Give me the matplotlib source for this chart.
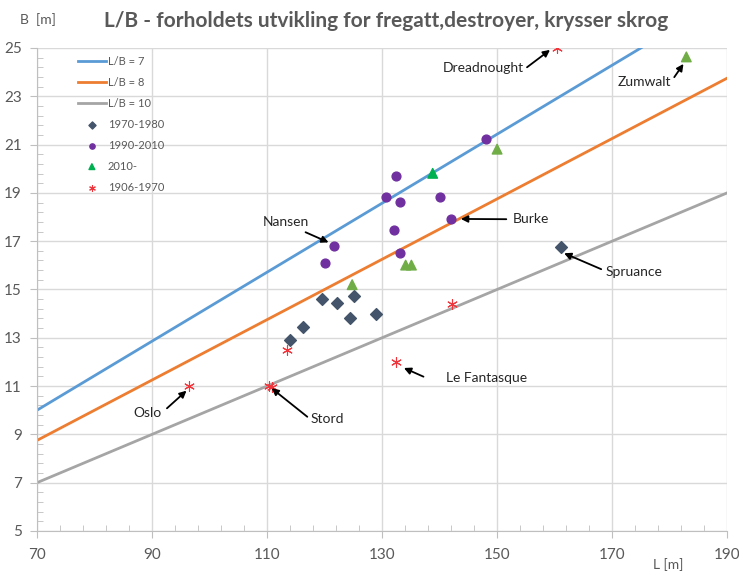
import matplotlib
matplotlib.use("Agg")
import matplotlib.pyplot as plt
import numpy as np

plt.rcParams['font.family'] = ['Lato', 'DejaVu Sans']

# ---- data ----
L_range = [70, 190]
ratios = [7, 8, 10]
ratio_labels = ["L/B = 7", "L/B = 8", "L/B = 10"]
ratio_colors = ["#5B9BD5", "#ED7D31", "#A5A5A5"]

L_7080 = [114.0, 116.3, 119.6, 122.1, 125.1, 124.4, 129.0, 161.1]
B_7080 = [12.9, 13.45, 14.6, 14.44, 14.73, 13.8, 13.99, 16.76]

L_9010 = [121.7, 120.1, 132.4, 130.7, 133.1, 140.0, 142.0, 132.1, 133.2, 148.0]
B_9010 = [16.81, 16.11, 19.70, 18.83, 18.62, 18.83, 17.93, 17.45, 16.5, 21.23]

L_2010 = [138.8, 150.0, 134.1, 135.1, 124.8, 182.9]
B_2010 = [19.81, 20.81, 16.01, 16.01, 15.2, 24.63]
C_2010 = ["#00B050", "#70AD47", "#70AD47", "#70AD47", "#70AD47", "#70AD47"]

L_0670 = [160.4, 142.2, 132.4, 113.5, 110.4, 110.8, 96.4]
B_0670 = [25.0, 14.41, 11.99, 12.49, 11.0, 10.95, 11.0]

ann_labels = ["Dreadnought", "Zumwalt", "Nansen", "Burke", "Spruance", "Le Fantasque", "Stord", "Oslo"]
ann_text = [(147.6, 24.16), (175.6, 23.60), (113.2, 17.78), (155.9, 17.92),
            (173.8, 15.71), (148.1, 11.32), (120.4, 9.64), (89.2, 9.90)]
arrow_start = [(155.2, 24.20), (180.8, 23.79), (116.7, 17.37), (151.6, 17.91),
               (168.1, 15.84), (137.2, 11.39), (117.0, 9.73), (92.6, 10.08)]
arrow_end = [(159.2, 24.92), (182.4, 24.34), (120.7, 16.95), (143.7, 17.92),
             (161.65, 16.50), (133.8, 11.75), (110.8, 10.91), (96.0, 10.81)]

x_ticks = list(range(70, 191, 20))
y_ticks = list(range(5, 26, 2))

# ---- figure ----
fig = plt.figure(figsize=(7.39, 5.73), dpi=100)
ax = fig.add_axes([0.050, 0.0733, 0.934, 0.843])

Lx = np.array(L_range, dtype=float)
for r, lab, col in zip(ratios, ratio_labels, ratio_colors):
    ax.plot(Lx, Lx / r, color=col, lw=2.0, label=lab, zorder=2)

ax.scatter(L_7080, B_7080, marker="D", s=36, color="#44546A", label="1970-1980", zorder=3)
ax.scatter(L_9010, B_9010, marker="o", s=40, color="#7030A0", label="1990-2010", zorder=3)
ax.scatter(L_2010, B_2010, marker="^", s=48, color=C_2010, label="2010-", zorder=3)
ax.scatter(L_0670, B_0670, marker=(6, 2, 0), s=50, color="#F0363C", linewidths=0.8,
           label="1906-1970", zorder=3)

for lab, txt, a0, a1 in zip(ann_labels, ann_text, arrow_start, arrow_end):
    ax.text(txt[0], txt[1], lab, ha="center", va="center", fontsize=10,
            color="#262626", zorder=4)
    ax.annotate("", xy=a1, xytext=a0,
                arrowprops=dict(arrowstyle="-|>", color="black", lw=1.3,
                                mutation_scale=10, shrinkA=0, shrinkB=0),
                zorder=4)

ax.set_xlim(70, 190)
ax.set_ylim(5, 25)
ax.set_xticks(x_ticks)
ax.set_yticks(y_ticks)
ax.set_xticks(np.arange(70, 191, 4), minor=True)
ax.set_yticks(np.arange(5, 25.01, 0.4), minor=True)
ax.grid(True, which="major", color="#D9D9D9", lw=1.0, zorder=0)
ax.set_axisbelow(True)
for s in ["top", "right"]:
    ax.spines[s].set_visible(False)
for s in ["left", "bottom"]:
    ax.spines[s].set_color("#BFBFBF")
ax.tick_params(axis="both", which="both", colors="#BFBFBF", labelcolor="#595959",
               labelsize=11)
ax.tick_params(axis="both", which="major", length=5, direction="out")
ax.tick_params(axis="both", which="minor", length=4, direction="in")
ax.tick_params(axis="x", which="major", pad=7)
ax.tick_params(axis="y", which="major", pad=6)

fig.text(0.523, 0.963, "L/B - forholdets utvikling for fregatt,destroyer, krysser skrog",
         ha="center", va="center", fontsize=15, fontweight="bold", color="#595959")
fig.text(0.027, 0.966, "B  [m]", ha="left", va="center", fontsize=10, color="#595959")
fig.text(0.884, 0.014, "L [m]", ha="left", va="center", fontsize=10, color="#595959")

leg = ax.legend(loc="upper left", bbox_to_anchor=(0.045, 1.005), frameon=False,
                fontsize=8, labelcolor="#595959", handlelength=2.5,
                handletextpad=0.2, labelspacing=0.9, markerscale=0.6)

fig.savefig("out.png", dpi=100)
